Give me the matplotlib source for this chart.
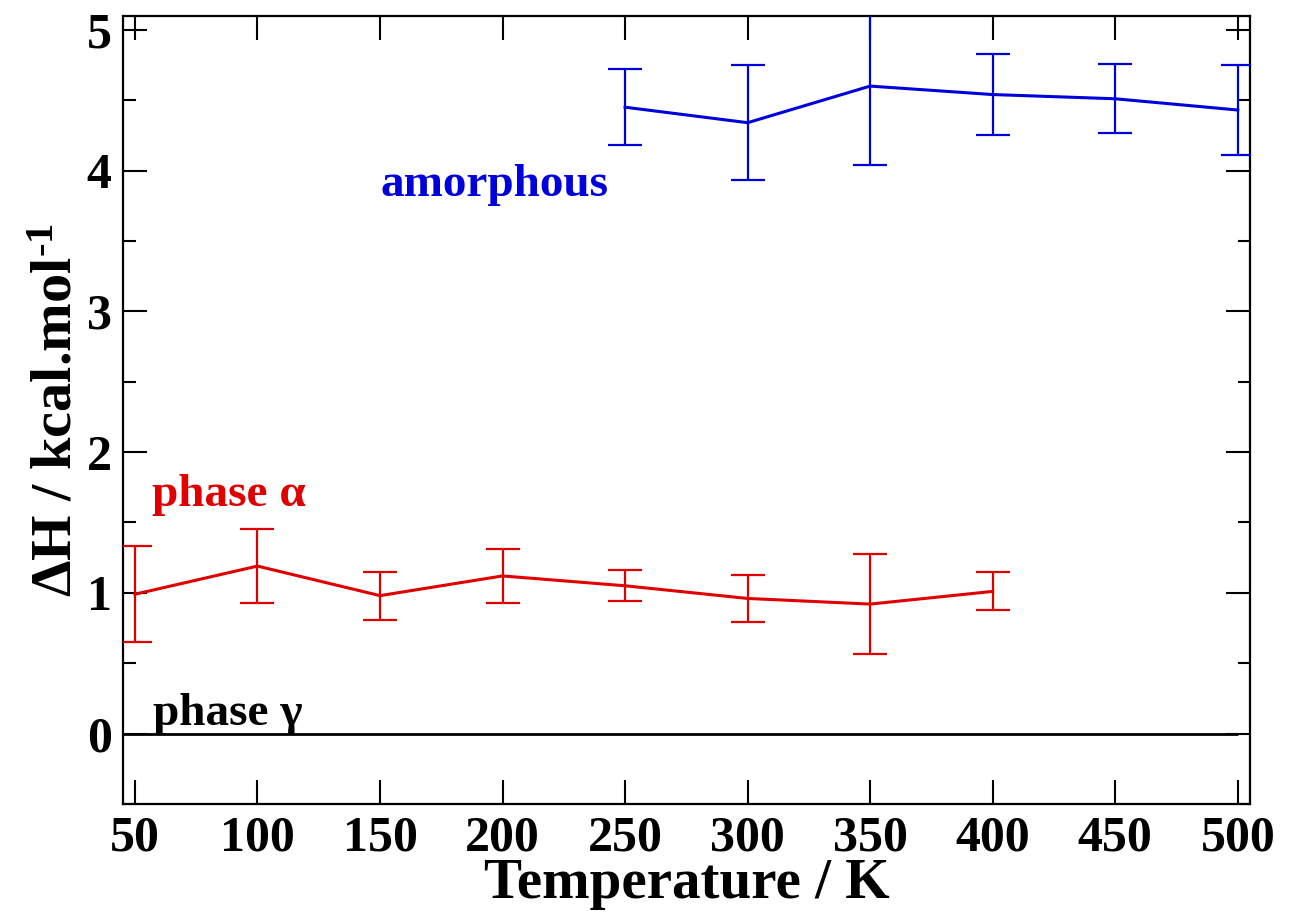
import matplotlib
matplotlib.use("Agg")
import matplotlib.pyplot as plt
from matplotlib.ticker import MultipleLocator

plt.rcParams['font.family'] = ['Liberation Serif', 'DejaVu Serif']
plt.rcParams['font.weight'] = 'bold'
plt.rcParams['mathtext.fontset'] = 'custom'
plt.rcParams['mathtext.rm'] = 'Liberation Serif:bold'
plt.rcParams['mathtext.bf'] = 'Liberation Serif:bold'
plt.rcParams['mathtext.it'] = 'Liberation Serif:bold'

# Enthalpy differences relative to phase gamma (kcal/mol)
temp_alpha = [50, 100, 150, 200, 250, 300, 350, 400]
dh_alpha = [0.99, 1.19, 0.98, 1.12, 1.05, 0.96, 0.92, 1.01]
err_alpha = [0.34, 0.26, 0.17, 0.19, 0.11, 0.165, 0.355, 0.135]

temp_amor = [250, 300, 350, 400, 450, 500]
dh_amor = [4.45, 4.34, 4.60, 4.54, 4.51, 4.43]
err_amor = [0.27, 0.41, 0.56, 0.285, 0.245, 0.32]

temp_gamma_end = 500
dh_gamma = 0.0

x_ticks = [50, 100, 150, 200, 250, 300, 350, 400, 450, 500]
y_ticks = [0, 1, 2, 3, 4, 5]

red = '#e00000'
blue = '#0000dd'

fig = plt.figure(figsize=(12.9, 9.14), dpi=100)
ax = fig.add_axes([0.0951, 0.1204, 0.969 - 0.0951, 0.9828 - 0.1204])

xlo, xhi = 45, 505
ax.set_xlim(xlo, xhi)
ax.set_ylim(-0.5, 5.1)

# reference phase
ax.hlines(dh_gamma, xlo, temp_gamma_end, color='black', lw=2.0, zorder=3)

ax.errorbar(temp_alpha, dh_alpha, yerr=err_alpha, color=red, lw=2.2,
            elinewidth=1.6, capsize=12, capthick=1.6, zorder=4)
ax.errorbar(temp_amor, dh_amor, yerr=err_amor, color=blue, lw=2.2,
            elinewidth=1.6, capsize=12, capthick=1.6, zorder=4)

ax.text(150, 3.82, 'amorphous', color=blue, fontsize=34, fontweight='bold',
        ha='left', va='baseline')
ax.text(57, 1.62, 'phase α', color=red, fontsize=34, fontweight='bold',
        ha='left', va='baseline')
ax.text(57.5, 0.06, 'phase γ', color='black', fontsize=34, fontweight='bold',
        ha='left', va='baseline')

ax.set_xticks(x_ticks)
ax.set_yticks(y_ticks)
ax.yaxis.set_minor_locator(MultipleLocator(0.5))
ax.tick_params(axis='both', which='both', direction='in', top=True, right=True,
               width=1.5, colors='black')
ax.tick_params(axis='both', which='major', length=17, labelsize=36, pad=8)
ax.tick_params(axis='y', which='minor', length=9)
ax.tick_params(axis='x', which='minor', bottom=False, top=False)
for lab in ax.get_xticklabels() + ax.get_yticklabels():
    lab.set_fontweight('bold')

for sp in ax.spines.values():
    sp.set_linewidth(1.6)

ax.set_xlabel('Temperature / K', fontsize=41, fontweight='bold', labelpad=-2)
ax.set_ylabel(r'ΔH / kcal.mol$^{\text{-}\mathbf{1}}$', fontsize=42,
              fontweight='bold', labelpad=2)

fig.savefig('out.png', dpi=100)
